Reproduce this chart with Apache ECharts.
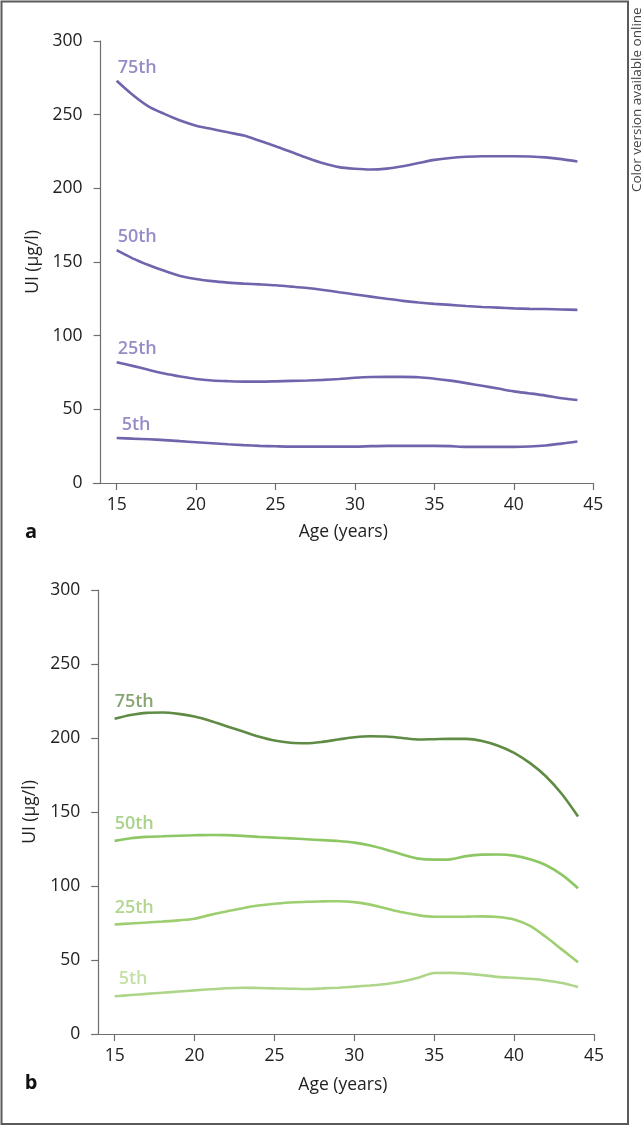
<!DOCTYPE html>
<html>
<head>
<meta charset="utf-8">
<script src="https://cdn.jsdelivr.net/npm/echarts@6/dist/echarts.min.js"></script>
<style>
  html, body { margin: 0; padding: 0; background: #fff; }
  #chart { width: 644px; height: 1127px; }
</style>
</head>
<body>
<div id="chart"></div>
<script>
// ---- Data ----
const ages = [15,16,17,18,19,20,21,22,23,24,25,26,27,28,29,30,31,32,33,34,35,36,37,38,39,40,41,42,43,44];
const xTicks = [15,20,25,30,35,40,45];
const yTicks = [0,50,100,150,200,250,300];
const percentileNames = ['75th','50th','25th','5th'];

// Panel a
const a75 = [273,263.5,255.6,250.5,246,242.5,240.3,238,235.8,232.3,228.6,224.6,220.6,217,214.4,213.3,212.8,213.4,215,217.2,219.3,220.6,221.4,221.8,221.8,221.8,221.6,221,219.8,218.2];
const a50 = [158,152.5,148,144,140.5,138.5,137,136,135.3,134.8,134.2,133.3,132.3,131,129.5,128,126.5,125,123.6,122.5,121.6,120.9,120.1,119.5,119,118.5,118.2,118.1,117.8,117.5];
const a25 = [82,79.5,76.8,74.3,72.3,70.6,69.6,69.1,68.8,68.8,69,69.3,69.6,70,70.6,71.4,71.9,72,72,71.8,70.8,69.5,67.8,66,64.1,62.2,60.8,59.3,57.5,56.3];
const a5  = [30.5,30.1,29.7,29.1,28.4,27.7,27,26.3,25.7,25.2,24.9,24.7,24.7,24.7,24.7,24.7,25,25.2,25.2,25.2,25.2,25,24.5,24.5,24.5,24.5,24.8,25.5,26.7,28.2];

// Panel b
const b75 = [213,215.5,217,217.2,216.3,214.5,211.5,208,204.5,201,198.3,196.8,196.5,197.4,199,200.5,201.2,201,200,199,199.2,199.4,199.4,198,194.8,190,183,174,162,147];
const b50 = [130.5,132.3,133.2,133.6,134,134.3,134.5,134.4,133.9,133.2,132.7,132.2,131.6,131,130.4,129.3,127.3,124.5,121.3,118.5,117.8,118,120.2,121.2,121.3,120.5,118,114,107.5,98.5];
const b25 = [74,74.7,75.3,76,76.8,77.9,80.5,82.8,85,86.8,88,88.8,89.4,89.6,89.7,89.1,87.4,84.8,82.2,80.3,79.2,79.2,79.3,79.5,79.1,77.4,73,65.5,57,48.5];
const b5  = [25.5,26.3,27.1,27.9,28.7,29.5,30.2,30.9,31.3,31.1,30.8,30.6,30.4,30.8,31.3,32,32.8,33.8,35.5,38,41.2,41.3,40.8,39.8,38.6,38,37.3,36.2,34.5,31.8];

// ---- Styles ----
const FONT = '"Open Sans", "Noto Sans", sans-serif';
const purpleLine = '#7065ad';
const purpleLabel = '#7b70b8';
const greenLines = ['#5f8b45', '#8cc764', '#9dce70', '#aed68a'];
const greenLabels = ['#688f4e', '#93c76d', '#9fcc74', '#b4d891'];

function pairs(vals) { return ages.map((a, i) => [a, vals[i]]); }

const chart = echarts.init(document.getElementById('chart'), null, { renderer: 'canvas' });

function xAxisCfg(gridIndex, min, nameGap) {
  return {
    type: 'value', gridIndex, min, max: 45,
    name: 'Age (years)', nameLocation: 'middle', nameGap,
    nameTextStyle: { fontFamily: FONT, fontSize: 17.5, color: '#222' },
    axisLine: { show: true, onZero: false, lineStyle: { color: '#6e6e6e', width: 1.2 } },
    axisTick: { show: true, length: 7, customValues: xTicks, lineStyle: { color: '#6e6e6e', width: 1.2 } },
    axisLabel: { customValues: xTicks, margin: 13, fontFamily: FONT, fontSize: 17.5, color: '#222' },
    splitLine: { show: false }
  };
}
function yAxisCfg(gridIndex, offset) {
  return {
    type: 'value', gridIndex, min: 0, max: 300, interval: 50, offset,
    name: 'UI (µg/l)', nameLocation: 'middle', nameGap: 56, nameRotate: 90,
    nameTextStyle: { fontFamily: FONT, fontSize: 17.5, color: '#222' },
    axisLine: { show: true, onZero: false, lineStyle: { color: '#6e6e6e', width: 1.2 } },
    axisTick: { show: true, length: 7, lineStyle: { color: '#6e6e6e', width: 1.2 } },
    axisLabel: { margin: 18, fontFamily: FONT, fontSize: 17.5, color: '#222' },
    splitLine: { show: false }
  };
}

function lineSeries(name, vals, xi, color) {
  return {
    type: 'line', name, xAxisIndex: xi, yAxisIndex: xi,
    data: pairs(vals), showSymbol: false, symbol: 'none', smooth: 0.3,
    lineStyle: { color, width: 2.6 }, silent: true, z: 3
  };
}
function labelSeries(name, vals, xi, color, dx, dist) {
  return {
    type: 'scatter', xAxisIndex: xi, yAxisIndex: xi, symbolSize: 0, silent: true,
    data: [[ages[0], vals[0]]],
    label: {
      show: true, position: 'top', align: 'left', distance: dist, offset: [dx, 0],
      formatter: name, fontFamily: FONT, fontSize: 18, fontWeight: 600, color
    }
  };
}

const aSets = [a75, a50, a25, a5];
const bSets = [b75, b50, b25, b5];
const series = [];
aSets.forEach((v, i) => {
  series.push(lineSeries('a' + percentileNames[i], v, 0, purpleLine));
  series.push(labelSeries(percentileNames[i], v, 0, purpleLabel, i === 3 ? 5 : 1, 4));
});
bSets.forEach((v, i) => {
  series.push(lineSeries('b' + percentileNames[i], v, 1, greenLines[i]));
  series.push(labelSeries(percentileNames[i], v, 1, greenLabels[i], i === 3 ? 4 : 0, 8));
});

chart.setOption({
  animation: false,
  backgroundColor: '#fff',
  grid: [
    { left: 93.3, top: 41, width: 500, height: 442 },
    { left: 91.8, top: 590, width: 502.2, height: 444 }
  ],
  xAxis: [xAxisCfg(0, 13.53, 40), xAxisCfg(1, 13.57, 42)],
  yAxis: [yAxisCfg(0, -7.3), yAxisCfg(1, -6.4)],
  series,
  graphic: [
    { type: 'rect', shape: { x: 1.5, y: 1.5, width: 626.5, height: 1122.5 },
      style: { fill: null, stroke: '#5a5a5a', lineWidth: 2 }, silent: true },
    { type: 'text', x: 31, y: 532, style: { text: 'a', font: 'bold 20px ' + FONT, fill: '#111', align: 'center', verticalAlign: 'middle' } },
    { type: 'text', x: 31, y: 1083, style: { text: 'b', font: 'bold 20px ' + FONT, fill: '#111', align: 'center', verticalAlign: 'middle' } },
    { type: 'text', x: 637, y: 192, rotation: Math.PI / 2,
      style: { text: 'Color version available online', font: '13.5px ' + FONT, fill: '#444', align: 'left', verticalAlign: 'middle' } }
  ]
});
</script>
</body>
</html>
